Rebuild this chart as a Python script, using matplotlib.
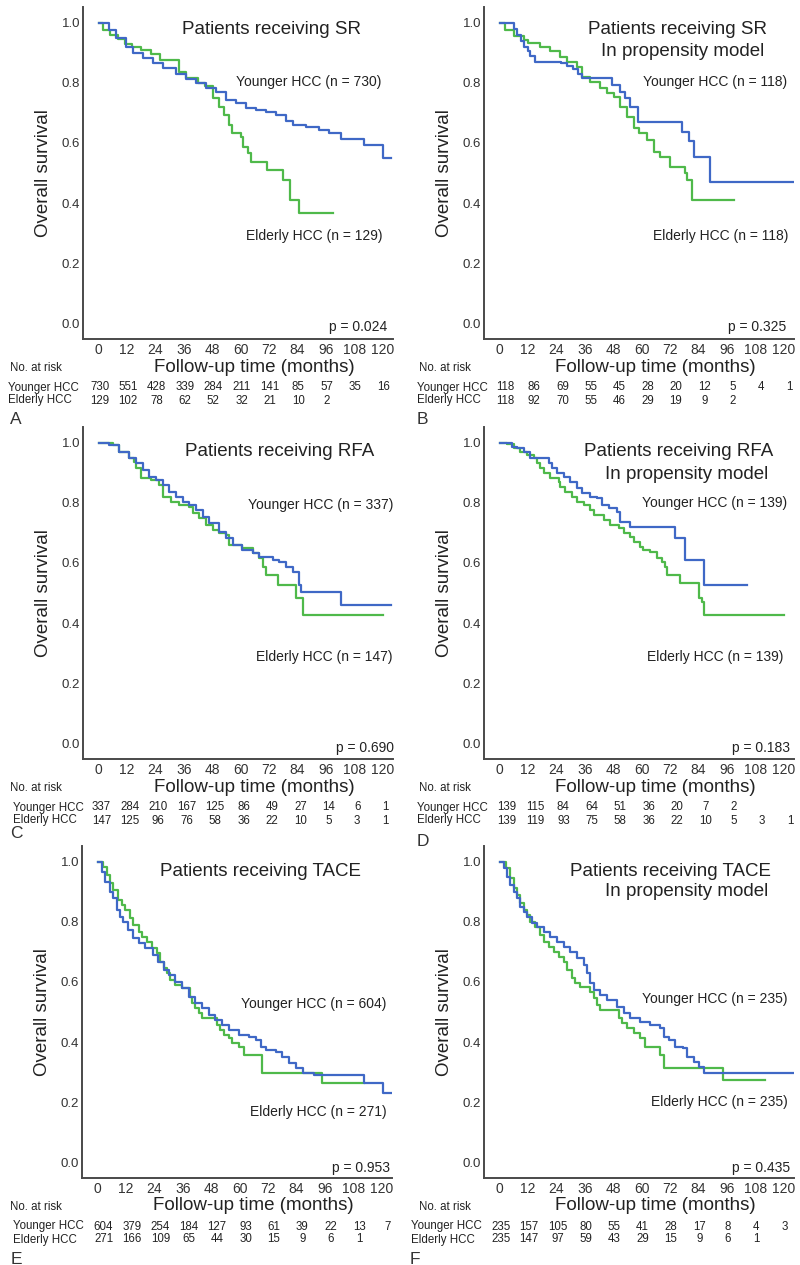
import matplotlib
matplotlib.use("Agg")
import matplotlib.pyplot as plt
from matplotlib.transforms import blended_transform_factory as blend

plt.rcParams['font.family'] = ['Liberation Sans', 'DejaVu Sans']

# ---------------- data ----------------
month_ticks = [0, 12, 24, 36, 48, 60, 72, 84, 96, 108, 120]
surv_ticks = [0.0, 0.2, 0.4, 0.6, 0.8, 1.0]

# A: SR
sr_young_t = [0, 4.5, 7.3, 11.5, 14.4, 18.6, 22.8, 27.0, 32.7, 36.9, 41.1, 45.4, 49.6, 53.8, 58.0, 62.3, 66.5,
              70.7, 74.9, 79.2, 82.0, 87.6, 93.2, 97.5, 102.4, 112.3, 120.0, 123.5]
sr_young_s = [1.0, 0.977, 0.949, 0.921, 0.899, 0.882, 0.866, 0.849, 0.829, 0.813, 0.799, 0.784, 0.769, 0.743,
              0.732, 0.718, 0.710, 0.704, 0.693, 0.673, 0.660, 0.654, 0.643, 0.632, 0.613, 0.593, 0.549, 0.549]
sr_elder_t = [0, 2, 5, 8, 11, 14, 18, 22, 26, 34, 37, 42, 45, 48.5, 51, 53, 55, 56.5, 60, 61, 63, 64.5, 71, 78,
              81, 84.5, 99]
sr_elder_s = [1.0, 0.975, 0.96, 0.945, 0.93, 0.92, 0.91, 0.895, 0.877, 0.838, 0.816, 0.80, 0.79, 0.749, 0.72,
              0.693, 0.66, 0.632, 0.62, 0.588, 0.566, 0.538, 0.51, 0.477, 0.41, 0.366, 0.366]

# B: SR, propensity model
srpm_young_t = [0, 6, 7.5, 9, 10.5, 12, 13, 15, 26, 28.5, 31, 33, 35, 47.5, 51, 53, 55, 58.5, 77, 80, 82, 89, 124]
srpm_young_s = [1.0, 0.98, 0.96, 0.94, 0.92, 0.905, 0.89, 0.871, 0.865, 0.855, 0.845, 0.83, 0.816, 0.793, 0.77,
                0.75, 0.72, 0.671, 0.638, 0.605, 0.554, 0.471, 0.471]
srpm_elder_t = [0, 2.4, 5.9, 10.1, 12.2, 17.2, 21.4, 25.6, 28.4, 32.7, 34.8, 38.3, 42.5, 45.4, 48.2, 51.0, 53.8,
                56.7, 58.8, 62.3, 65.1, 67.9, 72.1, 78.5, 79.2, 81.3, 99]
srpm_elder_s = [1.0, 0.977, 0.955, 0.943, 0.932, 0.921, 0.905, 0.888, 0.871, 0.854, 0.82, 0.804, 0.782, 0.766,
                0.754, 0.721, 0.688, 0.649, 0.632, 0.61, 0.571, 0.554, 0.521, 0.499, 0.477, 0.41, 0.41]

# C: RFA
rfa_young_t = [0, 4.5, 8.7, 13.0, 15.8, 18.6, 21.4, 24.2, 27.0, 29.9, 32.7, 35.5, 38.3, 41.1, 43.9, 46.8, 51.0,
               53.8, 56.6, 60.8, 65.1, 67.9, 73.5, 76.3, 79.2, 82.0, 84.8, 85.5, 102.4, 123.5]
rfa_young_s = [1.0, 0.993, 0.971, 0.949, 0.932, 0.91, 0.888, 0.877, 0.86, 0.838, 0.821, 0.804, 0.793, 0.777,
               0.754, 0.732, 0.704, 0.682, 0.66, 0.643, 0.632, 0.621, 0.61, 0.604, 0.588, 0.571, 0.527, 0.504,
               0.46, 0.46]
rfa_elder_t = [0, 5.9, 8.7, 13.0, 15.1, 15.8, 17.9, 22.1, 25.6, 27.0, 30.6, 34.1, 38.3, 39.7, 42.5, 45.4, 48.2,
               51.0, 53.8, 55.2, 60.8, 65.1, 67.9, 69.3, 70.7, 75.6, 83.4, 86.2, 120]
rfa_elder_s = [1.0, 0.993, 0.971, 0.949, 0.938, 0.916, 0.882, 0.877, 0.86, 0.821, 0.804, 0.793, 0.788, 0.766,
               0.749, 0.727, 0.71, 0.699, 0.693, 0.66, 0.649, 0.632, 0.616, 0.588, 0.56, 0.527, 0.482, 0.427, 0.427]

# D: RFA, propensity model
rfapm_young_t = [0, 5.2, 7.3, 10.1, 13.0, 20.7, 22.1, 24.2, 27.0, 29.9, 32.7, 34.8, 38.3, 41.1, 43.2, 46.1, 49.6,
                 51.0, 55.2, 74.2, 78.5, 86.2, 104.5]
rfapm_young_s = [1.0, 0.987, 0.982, 0.971, 0.949, 0.932, 0.916, 0.899, 0.888, 0.871, 0.849, 0.832, 0.821, 0.816,
                 0.793, 0.782, 0.771, 0.738, 0.721, 0.682, 0.61, 0.527, 0.527]
rfapm_elder_t = [0, 3.1, 5.9, 8.7, 11.5, 14.4, 15.8, 17.2, 18.6, 21.4, 24.9, 25.6, 27.7, 30.6, 32.7, 35.5, 38.3,
                 39.7, 43.9, 46.8, 50.3, 52.4, 55.2, 56.6, 59.4, 60.8, 63.7, 66.5, 68.6, 70.0, 70.7, 76.3, 84.1,
                 85.5, 86.2, 120]
rfapm_elder_s = [1.0, 0.995, 0.983, 0.971, 0.96, 0.949, 0.932, 0.916, 0.899, 0.882, 0.871, 0.854, 0.838, 0.821,
                 0.804, 0.793, 0.777, 0.76, 0.743, 0.727, 0.716, 0.699, 0.688, 0.671, 0.654, 0.643, 0.638, 0.616,
                 0.604, 0.588, 0.56, 0.532, 0.482, 0.471, 0.427, 0.427]

# E: TACE
tace_young_t = [0, 1.7, 3.1, 5.2, 6.6, 8.1, 9.5, 10.9, 13.0, 15.1, 17.3, 20.1, 23.6, 25.7, 27.9, 30.0, 32.8, 35.6,
                38.5, 41.3, 44.1, 47.0, 49.8, 52.6, 55.4, 59.7, 63.9, 66.8, 68.9, 71.0, 75.2, 78.1, 80.9, 83.7,
                86.6, 91.5, 112.7, 120.5, 124.8]
tace_young_s = [1.0, 0.968, 0.934, 0.901, 0.879, 0.84, 0.818, 0.801, 0.773, 0.746, 0.729, 0.712, 0.69, 0.668,
                0.64, 0.623, 0.601, 0.579, 0.551, 0.529, 0.512, 0.49, 0.473, 0.457, 0.44, 0.423, 0.418, 0.407,
                0.384, 0.373, 0.368, 0.351, 0.329, 0.312, 0.296, 0.29, 0.262, 0.229, 0.229]
tace_elder_t = [0, 2.4, 3.8, 5.2, 6.6, 8.8, 10.2, 11.6, 13.7, 15.1, 17.3, 18.7, 20.8, 22.9, 25.0, 26.4, 27.9,
                29.3, 30.7, 32.8, 35.6, 39.2, 39.9, 41.3, 42.7, 44.1, 50.5, 51.9, 53.3, 55.4, 56.9, 59.7, 61.8,
                69.6, 95.0, 112.7]
tace_elder_s = [1.0, 0.984, 0.957, 0.929, 0.907, 0.873, 0.857, 0.84, 0.812, 0.79, 0.768, 0.751, 0.734, 0.712,
                0.696, 0.668, 0.646, 0.629, 0.607, 0.59, 0.579, 0.551, 0.529, 0.512, 0.496, 0.479, 0.457, 0.44,
                0.423, 0.412, 0.396, 0.384, 0.357, 0.296, 0.262, 0.262]

# F: TACE, propensity model
tacepm_young_t = [0, 1.7, 3.1, 4.5, 5.9, 7.3, 8.7, 10.1, 11.5, 13.7, 15.8, 18.6, 21.4, 24.2, 27.0, 29.9, 32.7,
                  35.5, 36.9, 38.3, 39.7, 42.5, 45.4, 49.6, 52.4, 55.2, 59.4, 63.7, 67.9, 69.3, 71.4, 74.2, 77.7,
                  79.2, 82.0, 84.1, 86.2, 124.2]
tacepm_young_s = [1.0, 0.979, 0.951, 0.923, 0.901, 0.879, 0.851, 0.834, 0.818, 0.796, 0.784, 0.768, 0.751,
                  0.734, 0.718, 0.701, 0.679, 0.657, 0.629, 0.596, 0.573, 0.557, 0.54, 0.518, 0.496, 0.479, 0.468,
                  0.457, 0.446, 0.418, 0.407, 0.384, 0.379, 0.351, 0.334, 0.318, 0.296, 0.296]
tacepm_elder_t = [0, 2.8, 4.5, 5.9, 7.3, 8.7, 10.1, 11.5, 13.0, 15.1, 17.2, 18.6, 20.7, 22.8, 24.9, 27.0, 28.5,
                  30.6, 32.0, 34.1, 38.3, 39.7, 41.1, 42.5, 50.3, 51.7, 53.8, 56.6, 59.4, 61.5, 67.9, 69.3, 94.6,
                  112.3]
tacepm_elder_s = [1.0, 0.979, 0.946, 0.912, 0.89, 0.862, 0.84, 0.823, 0.801, 0.784, 0.757, 0.734, 0.718, 0.701,
                  0.684, 0.668, 0.64, 0.612, 0.596, 0.584, 0.568, 0.546, 0.523, 0.507, 0.479, 0.462, 0.446, 0.429,
                  0.412, 0.384, 0.357, 0.312, 0.273, 0.273]

# numbers at risk
sr_risk_young = [730, 551, 428, 339, 284, 211, 141, 85, 57, 35, 16]
sr_risk_elder = [129, 102, 78, 62, 52, 32, 21, 10, 2]
srpm_risk_young = [118, 86, 69, 55, 45, 28, 20, 12, 5, 4, 1]
srpm_risk_elder = [118, 92, 70, 55, 46, 29, 19, 9, 2]
rfa_risk_young = [337, 284, 210, 167, 125, 86, 49, 27, 14, 6, 1]
rfa_risk_elder = [147, 125, 96, 76, 58, 36, 22, 10, 5, 3, 1]
rfapm_risk_young = [139, 115, 84, 64, 51, 36, 20, 7, 2]
rfapm_risk_elder = [139, 119, 93, 75, 58, 36, 22, 10, 5, 3, 1]
tace_risk_young = [604, 379, 254, 184, 127, 93, 61, 39, 22, 13, 7]
tace_risk_elder = [271, 166, 109, 65, 44, 30, 15, 9, 6, 1]
tacepm_risk_young = [235, 157, 105, 80, 55, 41, 28, 17, 8, 4, 3]
tacepm_risk_elder = [235, 147, 97, 59, 43, 29, 15, 9, 6, 1]

panel_titles = [["Patients receiving SR"],
                ["Patients receiving SR", "In propensity model"],
                ["Patients receiving RFA"],
                ["Patients receiving RFA", "In propensity model"],
                ["Patients receiving TACE"],
                ["Patients receiving TACE", "In propensity model"]]
young_n = [730, 118, 337, 139, 604, 235]
elder_n = [129, 118, 147, 139, 271, 235]
p_values = ["0.024", "0.325", "0.690", "0.183", "0.953", "0.435"]
panel_letters = ["A", "B", "C", "D", "E", "F"]
young_label = "Younger HCC"
elder_label = "Elderly HCC"

curves = [
    (sr_young_t, sr_young_s, sr_elder_t, sr_elder_s, sr_risk_young, sr_risk_elder),
    (srpm_young_t, srpm_young_s, srpm_elder_t, srpm_elder_s, srpm_risk_young, srpm_risk_elder),
    (rfa_young_t, rfa_young_s, rfa_elder_t, rfa_elder_s, rfa_risk_young, rfa_risk_elder),
    (rfapm_young_t, rfapm_young_s, rfapm_elder_t, rfapm_elder_s, rfapm_risk_young, rfapm_risk_elder),
    (tace_young_t, tace_young_s, tace_elder_t, tace_elder_s, tace_risk_young, tace_risk_elder),
    (tacepm_young_t, tacepm_young_s, tacepm_elder_t, tacepm_elder_s, tacepm_risk_young, tacepm_risk_elder),
]

# ---------------- layout (pixels) ----------------
W, H = 800, 1265
AX_W, AX_H = 310, 332
PX_PER_MONTH = AX_W / 131.0
BLUE = '#3f68c6'
GREEN = '#4fb94a'
TXT = '#222222'

layout = [
    dict(left=83, bottom=339, title=[(271, 29)], yn=(381, 82), en=(382, 236), p=(387, 327),
         risk_lab=8, nar=10, letter=(16, 419), rdx=1),
    dict(left=484, bottom=339, title=[(678, 29), (683, 52)], yn=(787, 82), en=(788, 236), p=(786, 327),
         risk_lab=417, nar=419, letter=(422, 419), rdx=6),
    dict(left=83, bottom=759, title=[(280, 452)], yn=(393, 505), en=(393, 657), p=(394, 748),
         risk_lab=13, nar=10, letter=(16, 834), rdx=3),
    dict(left=484, bottom=759, title=[(679, 452), (687, 474)], yn=(787, 503), en=(783, 657), p=(790, 748),
         risk_lab=417, nar=419, letter=(423, 842), rdx=7),
    dict(left=82, bottom=1178, title=[(260, 872)], yn=(386, 1004), en=(387, 1112), p=(390, 1168),
         risk_lab=13, nar=10, letter=(16, 1260), rdx=6),
    dict(left=484, bottom=1178, title=[(671, 872), (687, 892)], yn=(787, 999), en=(788, 1102), p=(790, 1168),
         risk_lab=411, nar=419, letter=(415, 1260), rdx=1),
]

fig = plt.figure(figsize=(W / 100, H / 100), dpi=100)
fig.patch.set_facecolor('white')


def P(x, y):
    return x / W, 1 - y / H


for i, (lay, cv) in enumerate(zip(layout, curves)):
    yt, ys, et, es, ry, re_ = cv
    ax = fig.add_axes([lay['left'] / W, 1 - lay['bottom'] / H, AX_W / W, AX_H / H])
    ax.set_xlim(-6.6, 124.4)
    ax.set_ylim(-0.0533, 1.0533)
    ax.step(et, es, where='post', color=GREEN, lw=1.6, zorder=2)
    ax.step(yt, ys, where='post', color=BLUE, lw=1.6, zorder=3)

    for sp in ['top', 'right']:
        ax.spines[sp].set_visible(False)
    for sp in ['left', 'bottom']:
        ax.spines[sp].set_color('#4a4a4a')
        ax.spines[sp].set_linewidth(1.4)
    ax.set_xticks(month_ticks)
    ax.set_xticklabels([str(m) for m in month_ticks])
    ax.set_yticks(surv_ticks)
    ax.set_yticklabels([f"{v:.1f}" for v in surv_ticks])
    ax.tick_params(axis='both', length=0, labelcolor='#333333')
    ax.tick_params(axis='x', pad=3, labelsize=10)
    ax.tick_params(axis='y', pad=2, labelsize=9.5)

    # titles
    for line, (tx, ty) in zip(panel_titles[i], lay['title']):
        fig.text(*P(tx, ty), line, ha='center', va='center', fontsize=13.5, color=TXT)
    # group labels
    fig.text(*P(*lay['yn']), f"{young_label} (n = {young_n[i]})", ha='right', va='center',
             fontsize=10, color=TXT)
    fig.text(*P(*lay['en']), f"{elder_label} (n = {elder_n[i]})", ha='right', va='center',
             fontsize=10, color=TXT)
    fig.text(*P(*lay['p']), f"p = {p_values[i]}", ha='right', va='center', fontsize=10, color=TXT)

    # axis labels
    tr_y = blend(ax.transAxes, ax.transData)
    ax.text(-0.128, 0.5, "Overall survival", transform=tr_y, rotation=90, ha='center', va='center',
            fontsize=13.5, color=TXT)
    tr_x = blend(ax.transData, ax.transAxes)
    ax.text(66, -28 / AX_H, "Follow-up time (months)", transform=tr_x, ha='center', va='center',
            fontsize=13.5, color=TXT)

    # risk table
    b = lay['bottom']
    dx = lay['rdx'] / PX_PER_MONTH
    fig.text(*P(lay['nar'], b + 29), "No. at risk", ha='left', va='center', fontsize=8.3, color=TXT)
    fig.text(*P(lay['risk_lab'], b + 48.5), young_label, ha='left', va='center', fontsize=8.3, color=TXT)
    fig.text(*P(lay['risk_lab'], b + 61.5), elder_label, ha='left', va='center', fontsize=8.3, color=TXT)
    for m, v in zip(month_ticks, ry):
        ax.text(m + dx, -48.5 / AX_H, str(v), transform=tr_x, ha='center', va='center', fontsize=8.3,
                color=TXT, clip_on=False)
    for m, v in zip(month_ticks, re_):
        ax.text(m + dx, -61.5 / AX_H, str(v), transform=tr_x, ha='center', va='center', fontsize=8.3,
                color=TXT, clip_on=False)

    # panel letter
    fig.text(*P(*lay['letter']), panel_letters[i], ha='center', va='center', fontsize=12.5, color='#333333')

fig.savefig("out.png", dpi=100, facecolor='white')
